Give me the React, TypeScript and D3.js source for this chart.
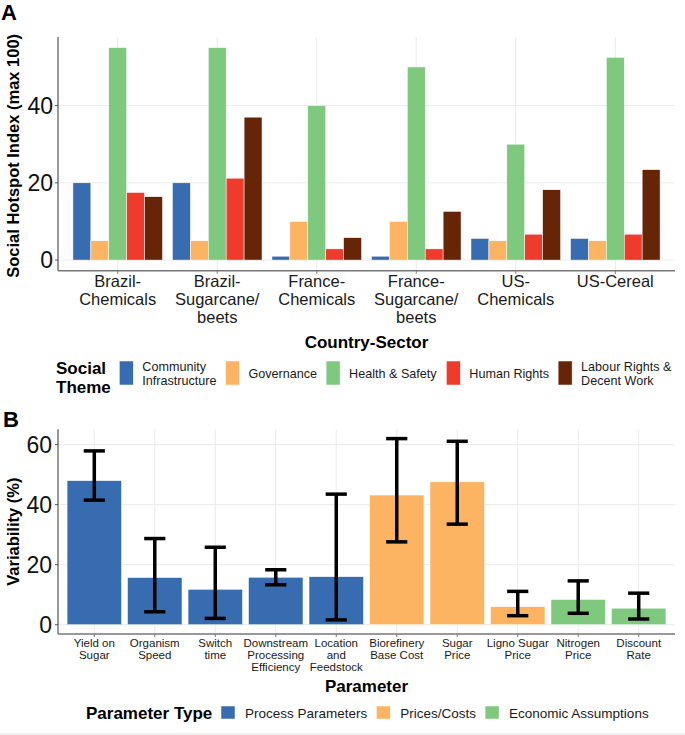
import React, { useEffect, useRef } from "react";
import * as d3 from "d3";

// ---- Panel A data ----
const sectors = [
  "Brazil-\nChemicals",
  "Brazil-\nSugarcane/\nbeets",
  "France-\nChemicals",
  "France-\nSugarcane/\nbeets",
  "US-\nChemicals",
  "US-Cereal",
];
const themes = [
  "Community\nInfrastructure",
  "Governance",
  "Health & Safety",
  "Human Rights",
  "Labour Rights &\nDecent Work",
];
const themeColors = ["#386cb0", "#fdb462", "#7fc97f", "#ef3b2c", "#662506"];
const communityInfra = [20, 20, 1, 1, 5.6, 5.6];
const governance = [5, 5, 10, 10, 5, 5];
const healthSafety = [55, 55, 40, 50, 30, 52.5];
const humanRights = [17.5, 21.2, 2.9, 2.9, 6.7, 6.7];
const labourRights = [16.4, 37, 5.8, 12.6, 18.2, 23.4];
const yTicksA = [0, 20, 40];

// ---- Panel B data ----
const params = [
  "Yield on\nSugar",
  "Organism\nSpeed",
  "Switch\ntime",
  "Downstream\nProcessing\nEfficiency",
  "Location\nand\nFeedstock",
  "Biorefinery\nBase Cost",
  "Sugar\nPrice",
  "Ligno Sugar\nPrice",
  "Nitrogen\nPrice",
  "Discount\nRate",
];
const paramTypes = ["Process Parameters", "Prices/Costs", "Economic Assumptions"];
const paramTypeOf = [0, 0, 0, 0, 0, 1, 1, 1, 2, 2];
const typeColors = ["#386cb0", "#fdb462", "#7fc97f"];
const variability = [48, 15.7, 11.8, 15.8, 16, 43.2, 47.6, 6.0, 8.4, 5.5];
const errLow = [41.5, 4.3, 2.1, 13.3, 1.6, 27.6, 33.5, 3.0, 3.8, 1.9];
const errHigh = [57.9, 28.7, 25.8, 18.3, 43.5, 62, 61.1, 11.1, 14.6, 10.5];
const yTicksB = [0, 20, 40, 60];

const FONT = "'Liberation Sans', Arial, sans-serif";
const W = 685;
const H = 735;

function multiline(sel: any, lineH: number) {
  sel.each(function (this: SVGTextElement, d: string) {
    const t = d3.select(this);
    d.split("\n").forEach((ln, i) => {
      t.append("tspan").attr("x", t.attr("x")).attr("dy", i === 0 ? 0 : lineH).text(ln);
    });
  });
}

export default function App() {
  const ref = useRef<SVGSVGElement>(null);

  useEffect(() => {
    const svg = d3.select(ref.current);
    svg.selectAll("*").remove();
    svg.append("rect").attr("width", W).attr("height", H).attr("fill", "white");

    const left = 58, right = 675;

    // ================= Panel A =================
    const seriesA = [communityInfra, governance, healthSafety, humanRights, labourRights];
    const maxA = d3.max(seriesA.flat()) as number;
    const xA = d3.scaleBand<string>().domain(sectors).range([left, right]).paddingInner(0.1).paddingOuter(0.15);
    const xInner = d3.scaleBand<string>().domain(themes).range([0, xA.bandwidth()]);
    const yA = d3.scaleLinear().domain([-0.05 * maxA, maxA * 1.05]).range([270.7, 37]);
    const gA = svg.append("g");

    // grid
    gA.selectAll(".hg").data(yTicksA).join("line")
      .attr("x1", left).attr("x2", right).attr("y1", d => yA(d)).attr("y2", d => yA(d))
      .attr("stroke", "#ebebeb").attr("stroke-width", 1);
    gA.selectAll(".vg").data(sectors).join("line")
      .attr("x1", d => xA(d)! + xA.bandwidth() / 2).attr("x2", d => xA(d)! + xA.bandwidth() / 2)
      .attr("y1", yA.range()[1]).attr("y2", yA.range()[0])
      .attr("stroke", "#ebebeb").attr("stroke-width", 1);

    // bars
    const barsA = sectors.flatMap((s, i) => themes.map((t, j) => ({ s, t, j, v: seriesA[j][i] })));
    gA.selectAll(".bar").data(barsA).join("rect")
      .attr("x", d => xA(d.s)! + xInner(d.t)!)
      .attr("width", xInner.bandwidth())
      .attr("y", d => yA(d.v))
      .attr("height", d => yA(0) - yA(d.v))
      .attr("fill", d => themeColors[d.j])
      .attr("stroke", "white").attr("stroke-width", 0.5);

    // axes
    gA.append("line").attr("x1", left).attr("x2", left).attr("y1", yA.range()[1]).attr("y2", yA.range()[0])
      .attr("stroke", "#555").attr("stroke-width", 1.2);
    gA.append("line").attr("x1", left).attr("x2", right).attr("y1", yA.range()[0]).attr("y2", yA.range()[0])
      .attr("stroke", "#777").attr("stroke-width", 1.6);
    gA.selectAll(".yt").data(yTicksA).join("line")
      .attr("x1", left - 3).attr("x2", left).attr("y1", d => yA(d)).attr("y2", d => yA(d))
      .attr("stroke", "#555");
    gA.selectAll(".ytl").data(yTicksA).join("text")
      .attr("x", left - 5).attr("y", d => yA(d)).attr("dy", "0.36em")
      .attr("text-anchor", "end").attr("font-size", 23).attr("font-family", FONT).attr("fill", "#111")
      .text(d => d);
    gA.selectAll(".xt").data(sectors).join("line")
      .attr("x1", d => xA(d)! + xA.bandwidth() / 2).attr("x2", d => xA(d)! + xA.bandwidth() / 2)
      .attr("y1", yA.range()[0]).attr("y2", yA.range()[0] + 3).attr("stroke", "#777");
    gA.selectAll(".xtl").data(sectors).join("text")
      .attr("x", d => xA(d)! + xA.bandwidth() / 2).attr("y", 287)
      .attr("text-anchor", "middle").attr("font-size", 16.5).attr("font-family", FONT).attr("fill", "#1a1a1a")
      .call(multiline, 18);

    gA.append("text").attr("transform", `translate(19,${(yA.range()[0] + yA.range()[1]) / 2 + 2}) rotate(-90)`)
      .attr("text-anchor", "middle").attr("font-size", 16.5).attr("font-weight", "bold").attr("font-family", FONT)
      .text("Social Hotspot Index (max 100)");
    gA.append("text").attr("x", (left + right) / 2).attr("y", 347.5)
      .attr("text-anchor", "middle").attr("font-size", 17).attr("font-weight", "bold").attr("font-family", FONT)
      .text("Country-Sector");
    svg.append("text").attr("x", 1).attr("y", 20).attr("font-size", 22).attr("font-weight", "bold")
      .attr("font-family", FONT).text("A");

    // legend A
    const legA = svg.append("g");
    legA.selectAll(".lt").data(["Social", "Theme"]).join("text")
      .attr("x", 56).attr("y", (d, i) => 374 + i * 19)
      .attr("font-size", 17).attr("font-weight", "bold").attr("font-family", FONT).text(d => d);
    let cx = 119.3;
    themes.forEach((t, j) => {
      legA.append("rect").attr("x", cx).attr("y", 361).attr("width", 14).attr("height", 24)
        .attr("fill", themeColors[j]).attr("stroke", "white").attr("stroke-width", 0.5);
      const lines = t.split("\n");
      const txt = legA.append("text").datum(t).attr("x", cx + 23)
        .attr("y", lines.length > 1 ? 370.5 : 377.5)
        .attr("font-size", 12.6).attr("font-family", FONT).attr("fill", "#1a1a1a")
        .call(multiline, 14);
      const w = (txt.node() as SVGTextElement).getBBox().width;
      cx = cx + 23 + w + 9;
    });

    // ================= Panel B =================
    const maxB = d3.max(errHigh) as number;
    const xB = d3.scaleBand<string>().domain(params).range([left, right]).paddingInner(0.1).paddingOuter(0.15);
    const yB = d3.scaleLinear().domain([-0.05 * maxB, maxB * 1.05]).range([634, 429.3]);
    const gB = svg.append("g");

    gB.selectAll(".hg").data(yTicksB).join("line")
      .attr("x1", left).attr("x2", right).attr("y1", d => yB(d)).attr("y2", d => yB(d))
      .attr("stroke", "#ebebeb").attr("stroke-width", 1);
    gB.selectAll(".vg").data(params).join("line")
      .attr("x1", d => xB(d)! + xB.bandwidth() / 2).attr("x2", d => xB(d)! + xB.bandwidth() / 2)
      .attr("y1", yB.range()[1]).attr("y2", yB.range()[0])
      .attr("stroke", "#ebebeb").attr("stroke-width", 1);

    const barsB = params.map((p, i) => ({ p, i, v: variability[i], lo: errLow[i], hi: errHigh[i] }));
    gB.selectAll(".bar").data(barsB).join("rect")
      .attr("x", d => xB(d.p)!).attr("width", xB.bandwidth())
      .attr("y", d => yB(d.v)).attr("height", d => yB(0) - yB(d.v))
      .attr("fill", d => typeColors[paramTypeOf[d.i]])
      .attr("stroke", "white").attr("stroke-width", 0.5);

    const capW = xB.step() * 0.35;
    const eb = gB.selectAll(".eb").data(barsB).join("g")
      .attr("transform", d => `translate(${xB(d.p)! + xB.bandwidth() / 2},0)`);
    eb.append("line").attr("y1", d => yB(d.lo)).attr("y2", d => yB(d.hi)).attr("stroke", "black").attr("stroke-width", 3.5);
    eb.append("line").attr("x1", -capW / 2).attr("x2", capW / 2).attr("y1", d => yB(d.lo)).attr("y2", d => yB(d.lo))
      .attr("stroke", "black").attr("stroke-width", 3.5);
    eb.append("line").attr("x1", -capW / 2).attr("x2", capW / 2).attr("y1", d => yB(d.hi)).attr("y2", d => yB(d.hi))
      .attr("stroke", "black").attr("stroke-width", 3.5);

    gB.append("line").attr("x1", left).attr("x2", left).attr("y1", yB.range()[1]).attr("y2", yB.range()[0])
      .attr("stroke", "#555").attr("stroke-width", 1.2);
    gB.append("line").attr("x1", left).attr("x2", right).attr("y1", yB.range()[0]).attr("y2", yB.range()[0])
      .attr("stroke", "#777").attr("stroke-width", 1.6);
    gB.selectAll(".yt").data(yTicksB).join("line")
      .attr("x1", left - 3).attr("x2", left).attr("y1", d => yB(d)).attr("y2", d => yB(d))
      .attr("stroke", "#555");
    gB.selectAll(".ytl").data(yTicksB).join("text")
      .attr("x", left - 6).attr("y", d => yB(d)).attr("dy", "0.36em")
      .attr("text-anchor", "end").attr("font-size", 23).attr("font-family", FONT).attr("fill", "#111")
      .text(d => d);
    gB.selectAll(".xt").data(params).join("line")
      .attr("x1", d => xB(d)! + xB.bandwidth() / 2).attr("x2", d => xB(d)! + xB.bandwidth() / 2)
      .attr("y1", yB.range()[0]).attr("y2", yB.range()[0] + 3).attr("stroke", "#777");
    gB.selectAll(".xtl").data(params).join("text")
      .attr("x", d => xB(d)! + xB.bandwidth() / 2).attr("y", 647)
      .attr("text-anchor", "middle").attr("font-size", 11.5).attr("font-family", FONT).attr("fill", "#1a1a1a")
      .call(multiline, 12);

    gB.append("text").attr("transform", `translate(19,${(yB.range()[0] + yB.range()[1]) / 2}) rotate(-90)`)
      .attr("text-anchor", "middle").attr("font-size", 16.5).attr("font-weight", "bold").attr("font-family", FONT)
      .text("Variability (%)");
    gB.append("text").attr("x", (left + right) / 2).attr("y", 692)
      .attr("text-anchor", "middle").attr("font-size", 17).attr("font-weight", "bold").attr("font-family", FONT)
      .text("Parameter");
    svg.append("text").attr("x", 3).attr("y", 427).attr("font-size", 22).attr("font-weight", "bold")
      .attr("font-family", FONT).text("B");

    // legend B
    const legB = svg.append("g");
    legB.append("text").attr("x", 86).attr("y", 718.5).attr("font-size", 17).attr("font-weight", "bold")
      .attr("font-family", FONT).text("Parameter Type");
    let bx = 221;
    paramTypes.forEach((t, j) => {
      legB.append("rect").attr("x", bx).attr("y", 706).attr("width", 14).attr("height", 13)
        .attr("fill", typeColors[j]).attr("stroke", "white").attr("stroke-width", 0.5);
      const txt = legB.append("text").attr("x", bx + 24).attr("y", 717.5)
        .attr("font-size", 13.5).attr("font-family", FONT).attr("fill", "#1a1a1a").text(t);
      const w = (txt.node() as SVGTextElement).getComputedTextLength();
      bx = bx + 24 + w + 9;
    });

    svg.append("rect").attr("x", 0).attr("y", 733).attr("width", W).attr("height", 2).attr("fill", "#f2f2f2");
  }, []);

  return (
    <svg ref={ref} width={W} height={H} style={{ position: "absolute", left: 0, top: 0 }} />
  );
}
